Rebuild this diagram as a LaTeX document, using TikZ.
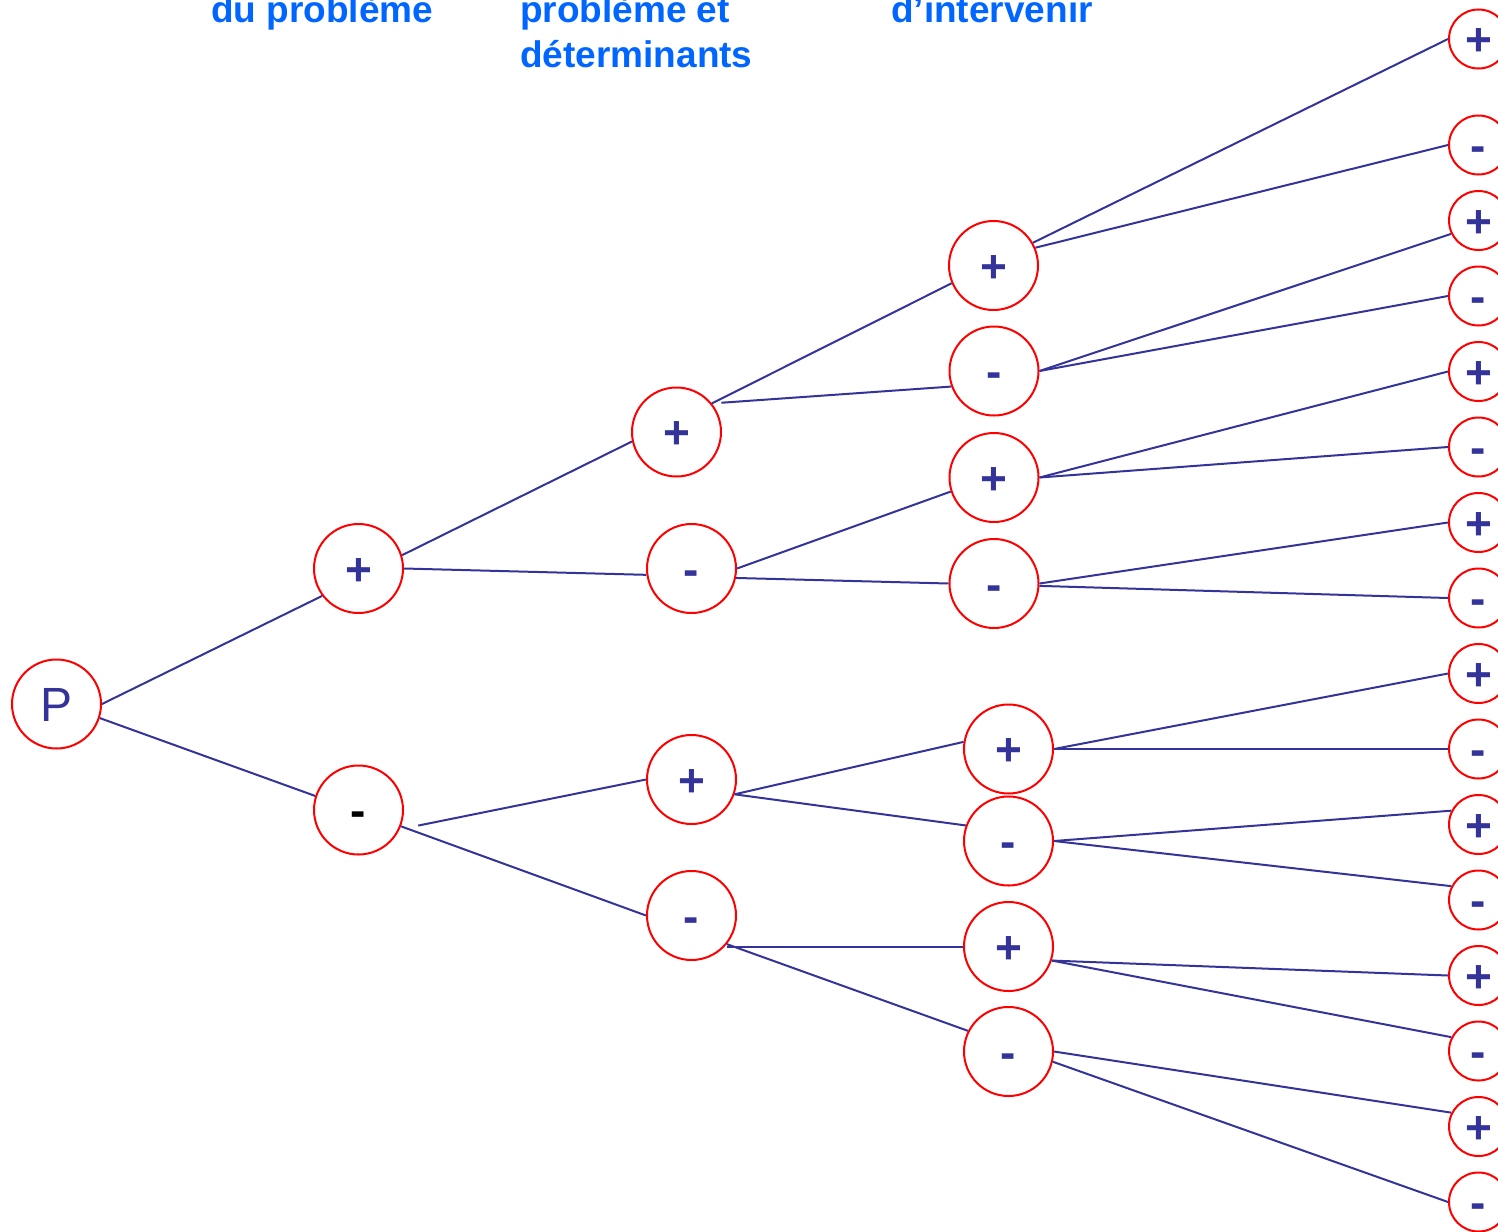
\documentclass[tikz,border=0pt]{standalone}
\usepackage{fontspec}
\setmainfont{Liberation Sans}
\definecolor{linkblue}{RGB}{51,51,153}
\definecolor{headblue}{RGB}{0,102,255}
\definecolor{ringred}{RGB}{255,0,0}
\begin{document}
\begin{tikzpicture}[x=1pt,y=-1pt,
  ring/.style={circle, draw=ringred, line width=2pt, inner sep=0pt,
    text=linkblue, font=\fontsize{46pt}{46pt}\selectfont\bfseries,
    text height=33pt, text depth=0pt},
  bigring/.style={ring, minimum size=89pt},
  leafring/.style={ring, minimum size=59pt},
  link/.style={draw=linkblue, line width=2pt},
  head/.style={anchor=base west, inner sep=0pt, text=headblue,
    font=\fontsize{37pt}{37pt}\selectfont\bfseries}]
\useasboundingbox (0,0) rectangle (1498,1231);

% column headings
\node[head] (h1) at (211,23) {du problème};
\node[head] (h2) at (520,23) {problème et};
\node[head] (h3) at (520,67) {déterminants};
\node[head] (h4) at (891,23) {d’intervenir};

% root and first level
\node[bigring, font=\fontsize{48pt}{48pt}\selectfont, text height=34.4pt] (p) at (56.5,704) {P};
\node[bigring] (a1) at (358.5,568.5) {+};
\node[bigring, text=black] (a2) at (358.5,810) {-};

% second level
\node[bigring] (b1) at (676.5,432) {+};
\node[bigring] (b2) at (691.5,568.5) {-};
\node[bigring] (b3) at (691.5,779.5) {+};
\node[bigring] (b4) at (691.5,915.5) {-};

% third level
\node[bigring] (c1) at (993.5,265.5) {+};
\node[bigring] (c2) at (994,371) {-};
\node[bigring] (c3) at (994,477.5) {+};
\node[bigring] (c4) at (994,583.5) {-};
\node[bigring] (c5) at (1008.5,749) {+};
\node[bigring] (c6) at (1008.5,841) {-};
\node[bigring] (c7) at (1008.5,946.5) {+};
\node[bigring] (c8) at (1008.5,1051.5) {-};

% leaves
\node[leafring] (d1) at (1478.5,39) {+};
\foreach \i/\s [evaluate=\i as \yy using {145+75.5*(\i-2)}] in
  {2/-,3/+,4/-,5/+,6/-,7/+,8/-,9/+,10/-,11/+,12/-,13/+,14/-,15/+,16/-}
  \node[leafring] (d\i) at (1478.5,\yy) {\s};

% connectors
\path[link] (p.0) -- (a1.217);
\path[link] (p.-18) -- (a2.162);

\path[link] (a1.17) -- (b1.192);
\path[link] (a1.0) -- (b2.188);
\path[link] ([xshift=17pt]a2.-20) -- (b3.180);
\path[link] (a2.-21) -- (b4.180);

\path[link] (b1.39) -- (c1.203);
\path[link] ([xshift=10pt]b1.40) -- (c2.200);
\path[link] (b2.0) -- (c3.198);
\path[link] (b2.-12) -- (c4.180);
\path[link] (b3.-19) -- (c5.171);
\path[link] (b3.-19) -- (c6.160);
\path[link] (b4.-39 |- c7.180) -- (c7.180);
\path[link] (b4.-39) -- (c8.153);

\path[link] (c1.30) -- (d1.180);
\path[link] (c1.23) -- (d2.180);
\path[link] (c2.0) -- (d3.206);
\path[link] (c2.0) -- (d4.180);
\path[link] (c3.0) -- (d5.180);
\path[link] (c3.0) -- (d6.180);
\path[link] (c4.0) -- (d7.180);
\path[link] (c4.-3) -- (d8.180);
\path[link] (c5.0) -- (d9.180);
\path[link] (c5.0) -- (d10.180);
\path[link] (c6.0) -- (d11.153);
\path[link] (c6.0) -- (d12.153);
\path[link] (c7.-18) -- (d13.180);
\path[link] (c7.-18) -- (d14.153);
\path[link] (c8.0) -- (d15.153);
\path[link] (c8.-13) -- (d16.180);
\end{tikzpicture}
\end{document}
